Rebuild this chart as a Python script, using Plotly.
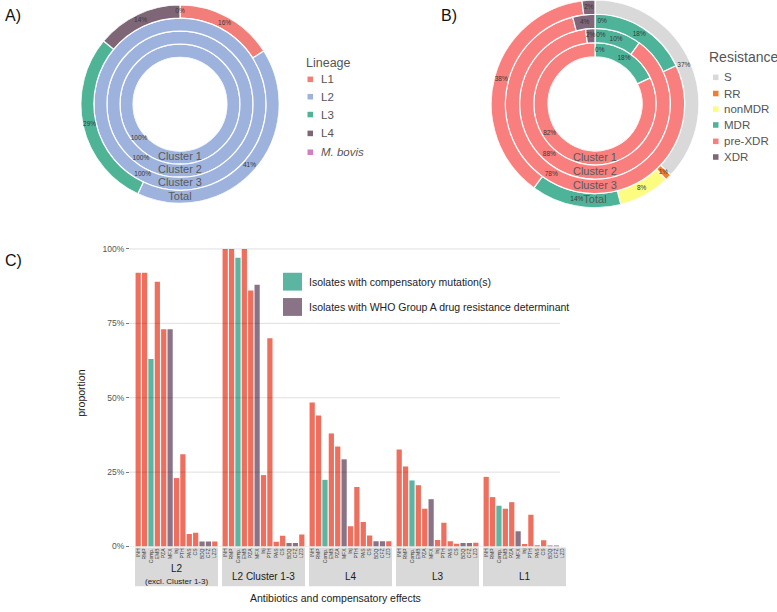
import plotly.graph_objects as go

W, H = 777, 612
def px(x): return x / W
def py(y): return 1 - y / H

# ---------------- DATA ----------------
# Panel A: lineage composition (%) per ring
A_rings = ["Cluster 1", "Cluster 2", "Cluster 3", "Total"]
A_lineages = ["L1", "L2", "L3", "L4", "M. bovis"]
A_cluster1 = [0, 100, 0, 0, 0]
A_cluster2 = [0, 100, 0, 0, 0]
A_cluster3 = [0, 100, 0, 0, 0]
A_total = [16, 41, 29, 14, 0]

# Panel B: resistance composition (%) per ring (None = category absent)
B_rings = ["Cluster 1", "Cluster 2", "Cluster 3", "Total"]
B_classes = ["S", "RR", "nonMDR", "MDR", "pre-XDR", "XDR"]
B_cluster1 = [0, None, None, 18, 82, None]
B_cluster2 = [0, None, None, 10, 88, 2]
B_cluster3 = [0, None, None, 18, 78, 4]
B_total = [37, 1, 8, 14, 38, 2]

# Panel C: proportions per facet
C_facets = ["L2 (excl. Cluster 1-3)", "L2 Cluster 1-3", "L4", "L3", "L1"]
C_drugs = ["INH", "RMP", "Comp.", "EMB", "PZA", "MFX", "Inj", "PTH", "PAS", "CS", "BDQ", "CFZ", "LZD"]
C_kind = ["drug", "drug", "comp", "drug", "drug", "groupA", "drug", "drug", "drug", "drug", "groupA", "groupA", "drug"]
C_L2_excl = [0.92, 0.92, 0.63, 0.89, 0.73, 0.73, 0.23, 0.31, 0.042, 0.046, 0.017, 0.017, 0.017]
C_L2_clust = [1.00, 1.00, 0.97, 1.00, 0.86, 0.88, 0.24, 0.70, 0.016, 0.036, 0.012, 0.012, 0.040]
C_L4 = [0.484, 0.44, 0.224, 0.38, 0.336, 0.293, 0.068, 0.20, 0.082, 0.037, 0.018, 0.018, 0.018]
C_L3 = [0.326, 0.269, 0.222, 0.206, 0.127, 0.159, 0.022, 0.08, 0.018, 0.009, 0.012, 0.012, 0.013]
C_L1 = [0.234, 0.166, 0.137, 0.127, 0.149, 0.051, 0.008, 0.107, 0.004, 0.021, 0.003, 0.003, 0.0]
C_yticks = [0, 0.25, 0.5, 0.75, 1.0]
C_yticklabels = ["0%", "25%", "50%", "75%", "100%"]

# ---------------- STYLE ----------------
FONT = "Liberation Sans, Arial, sans-serif"
A_colors = ["#F27E7A", "#9DB2DD", "#4FB396", "#7E6677", "#D07FC4"]
B_colors = ["#D9D9D9", "#F47C2A", "#FCFC80", "#4DB399", "#F87F7D", "#7F6679"]
C_colors = {"drug": "#EF6F5E", "comp": "#5BB5A0", "groupA": "#8A7386"}
A_label_theta = {("Cluster 1", "L2"): 230, ("Cluster 2", "L2"): 216, ("Cluster 3", "L2"): 208}
A_label_zero_rings = {"Total"}
B_label_theta = {("Cluster 1", "pre-XDR"): 237, ("Cluster 2", "pre-XDR"): 222, ("Cluster 3", "pre-XDR"): 212}
B_zero_shift = 5

fig = go.Figure()


def ann(text, x, y, size, color="#222", xanchor="center", yanchor="middle", **kw):
    return dict(text=text, x=px(x), y=py(y), xref="paper", yref="paper", showarrow=False,
                xanchor=xanchor, yanchor=yanchor, font=dict(size=size, color=color, family=FONT), **kw)


def add_donut(polar_id, rings, ring_vals, cats, colors, label_theta, zero_rings, zero_shift=0):
    per_cat = {c: {"theta": [], "width": [], "base": []} for c in cats}
    labels = {"r": [], "theta": [], "text": []}
    for ri, (ring, vals) in enumerate(zip(rings, ring_vals)):
        start = 0.0
        for c, v in zip(cats, vals):
            if v is None:
                continue
            mid = (start + v / 2.0) * 3.6
            per_cat[c]["theta"].append(mid)
            per_cat[c]["width"].append(v * 3.6)
            per_cat[c]["base"].append(ri)
            if v > 0 or (zero_rings is None or ring in zero_rings):
                labels["r"].append(ri + 0.5)
                th = label_theta.get((ring, c), mid)
                if v == 0 and ring != "Total":
                    th += zero_shift
                labels["theta"].append(th)
                labels["text"].append(f"{v}%")
            start += v
    for c, col in zip(cats, colors):
        d = per_cat[c]
        if not d["theta"]:
            continue
        fig.add_trace(go.Barpolar(
            r=[1] * len(d["theta"]), base=d["base"], theta=d["theta"], width=d["width"],
            marker=dict(color=col, line=dict(color="white", width=1.2)),
            subplot=polar_id, name=c, hoverinfo="skip", showlegend=False))
    fig.add_trace(go.Scatterpolar(
        r=labels["r"], theta=labels["theta"], text=labels["text"], mode="text",
        textfont=dict(size=6.5, color="#3a3a3a", family=FONT),
        subplot=polar_id, hoverinfo="skip", showlegend=False))
    fig.add_trace(go.Scatterpolar(
        r=[i + 0.5 for i in range(len(rings))], theta=[180] * len(rings), text=rings, mode="text",
        textfont=dict(size=11, color="#5a5a5a", family=FONT),
        subplot=polar_id, hoverinfo="skip", showlegend=False))


add_donut("polar", A_rings, [A_cluster1, A_cluster2, A_cluster3, A_total], A_lineages, A_colors,
          A_label_theta, A_label_zero_rings)
add_donut("polar2", B_rings, [B_cluster1, B_cluster2, B_cluster3, B_total], B_classes, B_colors,
          B_label_theta, None, B_zero_shift)

# Panel C bars
C_values = [C_L2_excl, C_L2_clust, C_L4, C_L3, C_L1]
facet_x0 = 135
facet_step = 87
facet_w = 83
for i, vals in enumerate(C_values):
    xa = "x" if i == 0 else f"x{i+1}"
    fig.add_trace(go.Bar(
        x=C_drugs, y=vals, marker=dict(color=[C_colors[k] for k in C_kind], line=dict(width=0)),
        xaxis=xa, yaxis="y", hoverinfo="skip", showlegend=False))

layout = dict(
    width=W, height=H, autosize=False, margin=dict(l=0, r=0, t=0, b=0, pad=0),
    paper_bgcolor="white", plot_bgcolor="rgba(0,0,0,0)", showlegend=False, bargap=0.18,
    font=dict(family=FONT),
    polar=dict(domain=dict(x=[px(80), px(280)], y=[py(205), py(5)]), hole=0.473,
               bgcolor="rgba(0,0,0,0)",
               radialaxis=dict(visible=False, range=[0, 4]),
               angularaxis=dict(visible=False, direction="clockwise", rotation=90)),
    polar2=dict(domain=dict(x=[px(490), px(700)], y=[py(209.5), py(0)]), hole=0.452,
                bgcolor="rgba(0,0,0,0)",
                radialaxis=dict(visible=False, range=[0, 4]),
                angularaxis=dict(visible=False, direction="clockwise", rotation=90)),
    yaxis=dict(domain=[py(551), py(236)], range=[0, 1.05], anchor="free", position=px(129),
               tickvals=C_yticks, ticktext=C_yticklabels, showgrid=False, zeroline=False,
               ticks="outside", ticklen=3, tickcolor="#777", showline=False,
               tickfont=dict(size=8.5, color="#555", family=FONT)),
)
shapes = []
annotations = []
for i in range(5):
    key = "xaxis" if i == 0 else f"xaxis{i+1}"
    x0 = facet_x0 + i * facet_step
    layout[key] = dict(domain=[px(x0), px(x0 + facet_w)], range=[-0.5, 12.5], anchor="y",
                       type="category", categoryorder="array", categoryarray=C_drugs,
                       tickangle=-90, tickfont=dict(size=5, color="#333", family=FONT),
                       showgrid=False, zeroline=False, showline=False, ticks="")
    shapes.append(dict(type="rect", xref="paper", yref="paper", x0=px(x0), x1=px(x0 + facet_w),
                       y0=py(591), y1=py(552), fillcolor="#D9D9D9", line=dict(width=0), layer="below"))
    cx = x0 + facet_w / 2
    if i == 0:
        annotations.append(ann("L2", cx, 573, 10, "#1a1a1a"))
        annotations.append(ann("(excl. Cluster 1-3)", cx, 586.5, 8, "#1a1a1a"))
    else:
        annotations.append(ann(C_facets[i], cx, 581, 10, "#1a1a1a"))

for v in C_yticks:
    shapes.append(dict(type="line", xref="paper", yref="y", x0=px(129), x1=px(560), y0=v, y1=v,
                       line=dict(color="rgba(0,0,0,0.13)", width=1), layer="above"))

# Panel C legend
C_leg = [("comp", "Isolates with compensatory mutation(s)", 284),
         ("groupA", "Isolates with WHO Group A drug resistance determinant", 309.5)]
for k, txt, yc in C_leg:
    shapes.append(dict(type="rect", xref="paper", yref="paper", x0=px(283), x1=px(302),
                       y0=py(yc + 9), y1=py(yc - 9), fillcolor=C_colors[k], line=dict(width=0)))
    annotations.append(ann(txt, 307, yc, 10.5, "#222", xanchor="left"))

# Panel A legend
annotations.append(ann("Lineage", 304, 64, 12.5, "#555", xanchor="left"))
A_leg_y = [80, 97.5, 115.5, 134.5, 153.5]
for name, col, yc in zip(A_lineages, A_colors, A_leg_y):
    shapes.append(dict(type="rect", xref="paper", yref="paper", x0=px(307.5), x1=px(313),
                       y0=py(yc + 2.8), y1=py(yc - 2.8), fillcolor=col, line=dict(width=0)))
    t = "<i>M. bovis</i>" if name == "M. bovis" else name
    annotations.append(ann(t, 319, yc, 11.5, "#555", xanchor="left"))

# Panel B legend
annotations.append(ann("Resistance", 707, 57, 14, "#555", xanchor="left"))
B_leg_y = [78, 94.3, 110, 126, 142.5, 158.3]
for name, col, yc in zip(B_classes, B_colors, B_leg_y):
    shapes.append(dict(type="rect", xref="paper", yref="paper", x0=px(713), x1=px(718.5),
                       y0=py(yc + 2.8), y1=py(yc - 2.8), fillcolor=col, line=dict(width=0)))
    annotations.append(ann(name, 721.5, yc, 11.5, "#555", xanchor="left"))

# Panel labels and axis titles
for t, x, y in [("A)", 13, 16), ("B)", 449, 16), ("C)", 13, 263)]:
    annotations.append(ann(t, x, y, 16, "#111"))
annotations.append(ann("proportion", 81, 397, 10.5, "#222", textangle=-90))
annotations.append(ann("Antibiotics and compensatory effects", 335, 603, 10.5, "#222"))

layout["shapes"] = shapes
layout["annotations"] = annotations
fig.update_layout(**layout)

# Remove the browser's default 8px body margin so the figure sits at the page origin.
page_fix = (
    "var st=document.createElement('style');"
    "st.textContent='html,body{margin:0;padding:0;overflow:hidden;line-height:0;}"
    ".svg-container{vertical-align:top;}';"
    "document.head.appendChild(st);"
)
fig.write_html("out.html", config={"displayModeBar": False, "staticPlot": True}, post_script=page_fix)
